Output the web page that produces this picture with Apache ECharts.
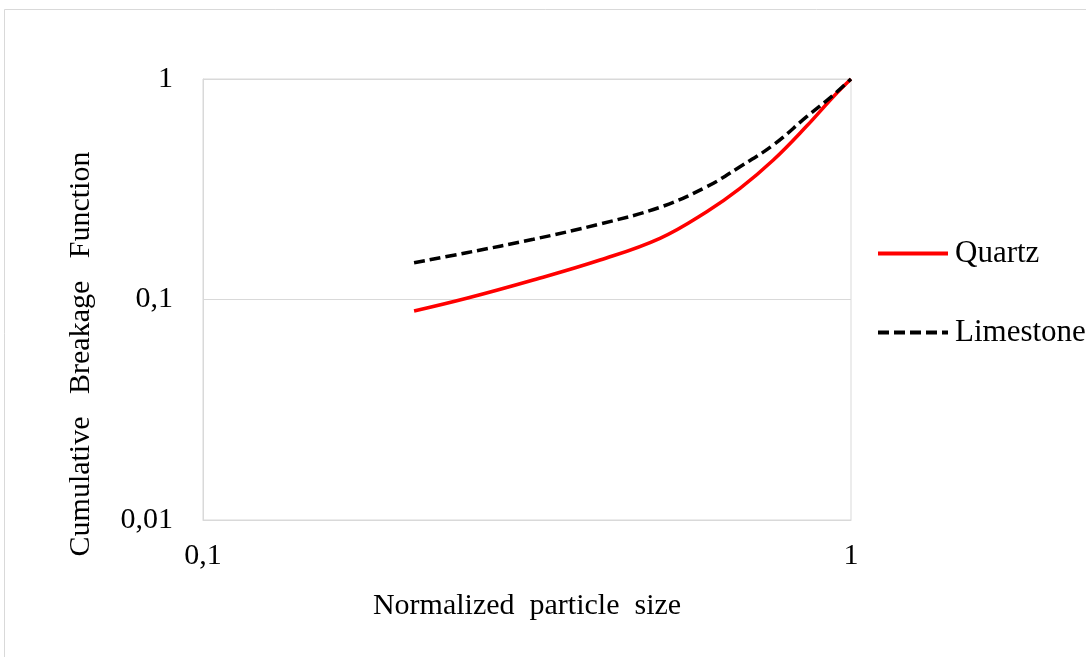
<!DOCTYPE html>
<html>
<head>
<meta charset="utf-8">
<script src="https://cdn.jsdelivr.net/npm/echarts@6/dist/echarts.min.js"></script>
<style>html,body{margin:0;padding:0;background:#fff}#c{width:1086px;height:657px}</style>
</head>
<body>
<div id="c"></div>
<script>
const seriesNames = ['Quartz', 'Limestone'];
const quartzX = [0.2117, 0.2552, 0.3233, 0.4099, 0.5072, 0.5989, 0.6741, 0.7588, 0.8543, 0.9391, 1];
const quartzY = [0.0887, 0.1013, 0.1226, 0.1510, 0.1895, 0.2502, 0.3193, 0.4292, 0.6118, 0.8312, 1];
const limeX = [0.2117, 0.2552, 0.3233, 0.4099, 0.5072, 0.5989, 0.6741, 0.7588, 0.8543, 0.9391, 1];
const limeY = [0.1468, 0.1630, 0.1875, 0.2200, 0.2619, 0.3248, 0.4002, 0.5021, 0.6745, 0.8461, 1];
const xTickLabels = {0.1: '0,1', 1: '1'};
const yTickLabels = {0.01: '0,01', 0.1: '0,1', 1: '1'};
const xTitle = 'Normalized  particle  size';
const yTitle = 'Cumulative   Breakage   Function';

const zip = (a, b) => a.map((v, i) => [v, b[i]]);
const font = '"Liberation Serif", "Times New Roman", serif';
const chart = echarts.init(document.getElementById('c'), null, {renderer: 'canvas'});
const fmt = (map) => (v) => {
  for (const k in map) { if (Math.abs(Math.log10(v) - Math.log10(+k)) < 1e-6) return map[k]; }
  return '';
};
chart.setOption({
  animation: false,
  backgroundColor: '#fff',
  graphic: [{
    type: 'rect', shape: {x: 4.5, y: 9.5, width: 1200, height: 800},
    style: {fill: 'none', stroke: '#d9d9d9', lineWidth: 1}, silent: true
  }, {
    type: 'text', x: 81, y: 354, rotation: Math.PI / 2, silent: true,
    style: {text: yTitle, font: '30px ' + font, fill: '#000', align: 'center', verticalAlign: 'middle'}
  }],
  grid: {left: 203, right: 235, top: 79, bottom: 137, show: true, borderColor: '#d9d9d9', borderWidth: 1, backgroundColor: 'transparent'},
  legend: {
    orient: 'vertical', left: 876, top: 238, padding: 0, itemWidth: 70, itemHeight: 14, itemGap: 48,
    itemStyle: {opacity: 0},
    lineStyle: {width: 4},
    textStyle: {fontFamily: font, fontSize: 31, color: '#000', padding: [0, 0, 0, 2]},
    data: seriesNames
  },
  xAxis: {
    type: 'log', logBase: 10, min: 0.1, max: 1,
    axisLine: {show: true, lineStyle: {color: '#d9d9d9'}},
    axisTick: {show: false}, splitLine: {show: false}, minorTick: {show: false},
    axisLabel: {formatter: fmt(xTickLabels), fontFamily: font, fontSize: 30, color: '#000', margin: 21},
    name: xTitle, nameLocation: 'middle', nameGap: 71,
    nameTextStyle: {fontFamily: font, fontSize: 30, color: '#000'}
  },
  yAxis: {
    type: 'log', logBase: 10, min: 0.01, max: 1,
    axisLine: {show: true, lineStyle: {color: '#d9d9d9'}},
    axisTick: {show: false},
    splitLine: {show: true, lineStyle: {color: '#d9d9d9', width: 1}},
    axisLabel: {formatter: fmt(yTickLabels), fontFamily: font, fontSize: 30, color: '#000', margin: 30}
  },
  series: [
    {name: seriesNames[0], type: 'line', data: zip(quartzX, quartzY), smooth: 0.4, showSymbol: false, symbol: 'none',
     lineStyle: {color: '#ff0000', width: 3.5}, itemStyle: {color: '#ff0000'}},
    {name: seriesNames[1], type: 'line', data: zip(limeX, limeY), smooth: 0.4, showSymbol: false, symbol: 'none',
     lineStyle: {color: '#000000', width: 3.5, type: [11, 5]}, itemStyle: {color: '#000'}}
  ]
});
</script>
</body>
</html>
